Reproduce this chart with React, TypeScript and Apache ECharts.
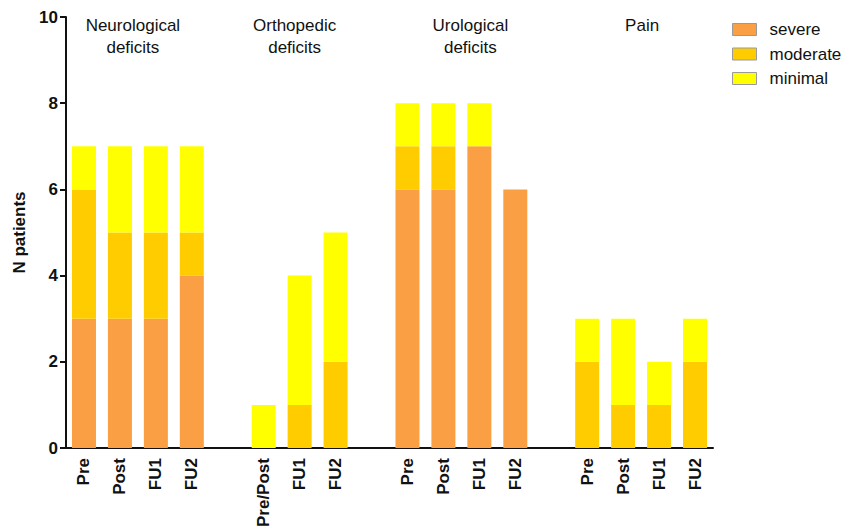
import React, { useEffect, useRef } from "react";
import * as echarts from "echarts";

const tickLabels = ["Pre", "Post", "FU1", "FU2", "", "Pre/Post", "FU1", "FU2", "", "Pre", "Post", "FU1", "FU2", "", "Pre", "Post", "FU1", "FU2"];
const severe = [3, 3, 3, 4, null, 0, 0, 0, null, 6, 6, 7, 6, null, 0, 0, 0, 0];
const moderate = [3, 2, 2, 1, null, 0, 1, 2, null, 1, 1, 0, 0, null, 2, 1, 1, 2];
const minimal = [1, 2, 2, 2, null, 1, 3, 3, null, 1, 1, 1, 0, null, 1, 2, 1, 1];
const groupTitles = ["Neurological\ndeficits", "Orthopedic\ndeficits", "Urological\ndeficits", "Pain"];
const groupRanges = [[0, 3], [5, 7], [9, 12], [14, 17]];
const seriesNames = ["severe", "moderate", "minimal"];
const colors = ["#FA9F43", "#FFCC00", "#FFFF00"];

const FONT = "Liberation Sans, Arial, sans-serif";
const titleShift = [-5, -5, 9, 1];

export default function App() {
  const ref = useRef<HTMLDivElement>(null);
  useEffect(() => {
    const chart = echarts.init(ref.current!, null, { renderer: "svg" });
    const keys = tickLabels.map((l, i) => `${i}|${l}`);
    const data = [severe, moderate, minimal];
    chart.setOption({
      animation: false,
      grid: { left: 66, right: 145, top: 17, bottom: 79, containLabel: false },
      legend: {
        orient: "vertical",
        left: 732,
        top: 21,
        padding: 0,
        itemWidth: 24,
        itemHeight: 12,
        itemGap: 7.5,
        icon: "rect",
        data: seriesNames,
        textStyle: { fontFamily: FONT, fontSize: 17, color: "#111", padding: [0, 0, 0, 8] },
        itemStyle: { borderColor: "#9a9a9a", borderWidth: 1 },
      },
      xAxis: {
        type: "category",
        data: keys,
        axisLine: { lineStyle: { color: "#111", width: 2 } },
        axisTick: { alignWithLabel: true, length: 6, lineStyle: { color: "#111", width: 2 } },
        axisLabel: {
          interval: 0,
          rotate: 90,
          fontFamily: FONT,
          fontWeight: "bold",
          fontSize: 17,
          color: "#111",
          margin: 10,
          formatter: (v: string) => v.split("|")[1],
        },
      },
      yAxis: {
        type: "value",
        min: 0,
        max: 10,
        interval: 2,
        name: "N patients",
        nameLocation: "middle",
        nameRotate: 90,
        nameGap: 38,
        nameTextStyle: { fontFamily: FONT, fontWeight: "bold", fontSize: 17, color: "#111" },
        splitLine: { show: false },
        axisLine: { show: true, lineStyle: { color: "#111", width: 2 } },
        axisTick: { show: true, length: 6, lineStyle: { color: "#111", width: 2 } },
        axisLabel: { fontFamily: FONT, fontWeight: "bold", fontSize: 17, color: "#111", margin: 8 },
      },
      series: seriesNames.map((name, si) => ({
        name,
        type: "bar",
        stack: "total",
        barWidth: 24,
        data: data[si],
        itemStyle: { color: colors[si] },
      })),
    });
    const graphics = groupTitles.map((t, gi) => {
      const [a, b] = groupRanges[gi];
      const xa = chart.convertToPixel({ xAxisIndex: 0 }, keys[a]) as number;
      const xb = chart.convertToPixel({ xAxisIndex: 0 }, keys[b]) as number;
      return {
        type: "text",
        x: (xa + xb) / 2 + titleShift[gi],
        y: 14,
        style: {
          text: t,
          fontFamily: FONT,
          fontSize: 17,
          lineHeight: 22,
          fill: "#111",
          align: "center",
          verticalAlign: "top",
        },
      };
    });
    chart.setOption({ graphic: graphics });
    return () => chart.dispose();
  }, []);
  return <div ref={ref} style={{ position: "absolute", left: 0, top: 0, width: 858, height: 530 }} />;
}
